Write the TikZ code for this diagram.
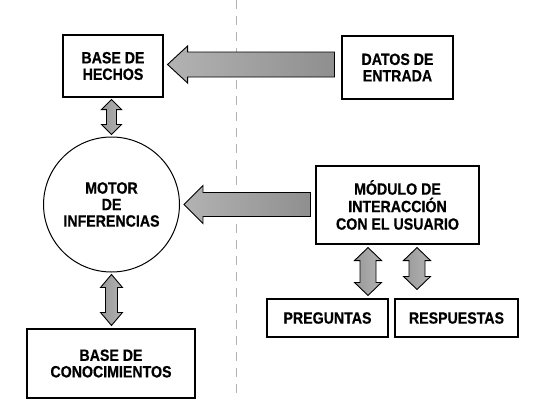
\documentclass[tikz,border=0pt]{standalone}
\usepackage{fontspec}
\setmainfont{Liberation Sans}[FakeStretch=0.87, BoldFeatures={FakeBold=0.6}]
\usetikzlibrary{calc,shapes.geometric}
\tikzset{
  lbl/.style={font=\bfseries\fontsize{16.3}{16.5}\selectfont, align=center, inner sep=0pt},
  box/.style={lbl, draw, line width=1.1pt},
  fatarrow/.style={draw=black, line width=0.9pt, left color=gray!60, right color=gray!88, line join=miter},
  fatvarrow/.style={draw=black, line width=0.9pt, left color=gray!80, right color=gray!60, line join=miter},
  divider/.style={gray!60, line width=0.6pt, dash pattern=on 9pt off 7pt}
}
% single fat arrow: #1 tail, #2 tip, #3 shaft half width, #4 head half width, #5 head length, #6 style
\newcommand\fatsingle[6]{%
  \coordinate (fa-H) at ($(#2)!#5!(#1)$);
  \path[#6] ($(#1)!#3!90:(#2)$) -- ($(fa-H)!#3!-90:(#1)$) -- ($(fa-H)!#4!-90:(#1)$) -- (#2)
    -- ($(fa-H)!#4!90:(#1)$) -- ($(fa-H)!#3!90:(#1)$) -- ($(#1)!#3!-90:(#2)$) -- cycle;}
% double fat arrow: #1 end A, #2 end B, #3 shaft half, #4 head half, #5 head length, #6 style
\newcommand\fatdouble[6]{%
  \coordinate (fd-A) at ($(#1)!#5!(#2)$);
  \coordinate (fd-B) at ($(#2)!#5!(#1)$);
  \path[#6] (#1) -- ($(fd-A)!#4!90:(#2)$) -- ($(fd-A)!#3!90:(#2)$) -- ($(fd-B)!#3!-90:(#1)$)
    -- ($(fd-B)!#4!-90:(#1)$) -- (#2) -- ($(fd-B)!#4!90:(#1)$) -- ($(fd-B)!#3!90:(#1)$)
    -- ($(fd-A)!#3!-90:(#2)$) -- ($(fd-A)!#4!-90:(#2)$) -- cycle;}
\begin{document}
\begin{tikzpicture}[x=1pt, y=-1pt]
\useasboundingbox (0,0) rectangle (533,407);
% divider
\coordinate (divtop) at (236,0);
\coordinate (divbot) at (236,400);
\draw[divider] (divtop) -- (divbot);
% nodes
\node[box, minimum width=100pt, minimum height=62pt] (hechos) at (113,66) {BASE DE\\HECHOS};
\node[box, minimum width=111pt, minimum height=63pt] (datos) at (397.5,67.5) {DATOS DE\\ENTRADA};
\node[lbl, draw, line width=1pt, ellipse, minimum width=125pt, minimum height=135pt] (motor) at (111.5,204.5) {MOTOR\\DE\\INFERENCIAS};
\node[box, minimum width=163pt, minimum height=78pt, font=\bfseries\fontsize{16.3}{17.5}\selectfont] (modulo) at (397.5,205) {MÓDULO DE\\INTERACCIÓN\\CON EL USUARIO};
\node[box, minimum width=121pt, minimum height=38pt] (preguntas) at (327.5,318) {PREGUNTAS};
\node[box, minimum width=123pt, minimum height=38pt] (respuestas) at (456.5,318) {RESPUESTAS};
\node[box, minimum width=168pt, minimum height=69pt] (conoc) at (111,363.5) {BASE DE\\CONOCIMIENTOS};
% horizontal arrows
\coordinate (a1s) at ($(datos.west)+(-7,-3)$);
\coordinate (a1t) at ($(hechos.east)+(4,-1.5)$);
\fatsingle{a1s}{a1t}{12.5pt}{18.5pt}{20pt}{fatarrow}
\coordinate (a2s) at ($(modulo.west)+(-5,-0.5)$);
\coordinate (a2t) at ($(motor.east)+(4,0)$);
\fatsingle{a2s}{a2t}{12pt}{19pt}{19pt}{fatarrow}
% vertical double arrows
\coordinate (d1a) at ($(hechos.south -| motor.north)+(0,2)$);
\coordinate (d1b) at ($(motor.north)+(0,-2)$);
\fatdouble{d1a}{d1b}{5pt}{10pt}{10pt}{fatvarrow}
\coordinate (d2a) at ($(motor.south)+(0,2)$);
\coordinate (d2b) at ($(conoc.north -| motor.south)+(0,-3)$);
\fatdouble{d2a}{d2b}{6pt}{11pt}{13pt}{fatvarrow}
\coordinate (d3a) at ($(modulo.south)+(-29.5,3)$);
\coordinate (d3b) at ($(d3a |- preguntas.north)+(0,-3)$);
\fatdouble{d3a}{d3b}{8pt}{13.5pt}{13pt}{fatvarrow}
\coordinate (d4a) at ($(modulo.south)+(19.5,3)$);
\coordinate (d4b) at ($(d4a |- respuestas.north)+(0,-9)$);
\fatdouble{d4a}{d4b}{8pt}{13.5pt}{13pt}{fatvarrow}
\end{tikzpicture}
\end{document}
